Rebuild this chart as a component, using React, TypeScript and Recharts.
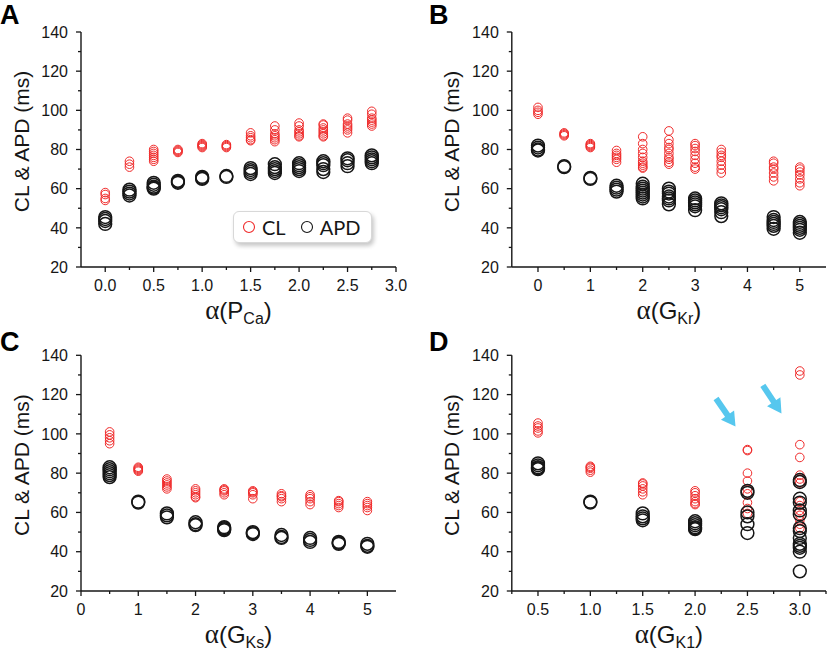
import { ScatterChart, Scatter, XAxis, YAxis, Legend, ReferenceLine, Label } from 'recharts';

const FONT = '"Liberation Sans", Arial, Helvetica, sans-serif';
const RED = '#f02a2a';
const INK = '#161616';
const ARROW = '#56c7ee';

// y axis, shared by all panels
const yMajor = [20, 40, 60, 80, 100, 120, 140];
const yMinor = [30, 50, 70, 90, 110, 130];

// A: alpha(PCa)
const xA = [0, 0.25, 0.5, 0.75, 1, 1.25, 1.5, 1.75, 2, 2.25, 2.5, 2.75];
const clA = [
  [58, 57, 55, 54],
  [74, 72.5, 71],
  [80, 79, 78, 77, 76, 75, 74],
  [80, 79.5, 79, 78.5],
  [83, 82.5, 82, 81.5, 81],
  [82.5, 82, 81.5, 81],
  [88.5, 87, 86, 85, 84.5],
  [92, 90, 88, 87, 86, 85, 84],
  [93.5, 92, 90, 89, 88, 87, 86.5],
  [93, 92.5, 91, 90, 89, 88, 87, 86.5],
  [96, 95, 93, 92, 91, 90, 88.5],
  [99.5, 98, 96, 95, 94, 93, 92],
];
const apdA = [
  [45.5, 44.5, 43.5, 42],
  [59.5, 58.5, 57.5, 56.5],
  [63, 62, 61, 60.5, 60],
  [64, 63.5, 63],
  [66, 65.5, 65],
  [66.5, 66],
  [70.5, 69.5, 68.5, 67.5],
  [72.5, 71, 70, 69, 68],
  [73, 72, 71, 70, 69],
  [74, 73, 72, 70, 68.5],
  [75.5, 74.5, 73, 71.5],
  [77, 76, 75, 74, 73],
];
const xLabelsA = [0, 0.5, 1, 1.5, 2, 2.5, 3];
const xMinorA = [0.25, 0.75, 1.25, 1.75, 2.25, 2.75];

// B: alpha(GKr)
const xB = [0, 0.5, 1, 1.5, 2, 2.5, 3, 3.5, 4.5, 5];
const clB = [
  [101.5, 100, 99, 98],
  [88.5, 88, 87.5, 87],
  [83, 82.5, 82, 81.5, 81],
  [79.5, 78, 77, 76, 75, 73.5],
  [86.5, 83, 80, 78, 76, 74, 73, 72, 71, 70.5],
  [89.5, 85, 83, 81, 80, 78, 76, 75, 73.5, 72.5],
  [83, 82, 80.5, 79, 77, 75, 73, 71, 70],
  [80, 78.5, 77, 76, 74, 72, 70, 68],
  [74, 73, 71, 70, 68, 66, 64],
  [71, 70, 68.5, 67, 65, 63, 61.5],
];
const apdB = [
  [82, 81, 80, 79.5],
  [71.5, 71],
  [65.5, 65],
  [61.5, 60.5, 59.5, 58.5],
  [62.5, 61, 60, 59, 58, 57, 56, 55],
  [60, 58.5, 57.5, 56, 55, 54, 52],
  [55, 54, 53, 52, 51, 49],
  [52.5, 51.5, 50.5, 49.5, 48, 46],
  [45.5, 44, 43, 42, 41, 39.5],
  [43, 42, 41, 40, 39, 37.5],
];
const xLabelsB = [0, 1, 2, 3, 4, 5];
const xMinorB = [0.5, 1.5, 2.5, 3.5, 4.5];

// C: alpha(GKs)
const xC = [0.5, 1, 1.5, 2, 2.5, 3, 3.5, 4, 4.5, 5];
const clC = [
  [101, 99.5, 98, 96.5, 95],
  [83, 82.5, 82, 81.5, 81],
  [77, 76, 75, 74, 73, 72],
  [72, 71, 70, 69, 68, 67.5],
  [72, 71.5, 71, 70, 69],
  [71, 70.5, 70, 69, 67],
  [69.5, 68.5, 68, 67, 65.5],
  [69, 68, 67, 65.5, 64],
  [66, 65.5, 64.5, 63.5, 62.5],
  [65.5, 64.5, 63.5, 62.5, 61],
];
const apdC = [
  [83, 82, 81, 80, 79, 78],
  [65.5, 65],
  [59.5, 58.5, 57.5],
  [55, 54, 53.5],
  [52.5, 52, 51.5, 51],
  [50, 49.5, 49],
  [48.5, 47.5, 47],
  [47, 46, 45],
  [45, 44.5, 44],
  [44, 43, 42.5],
];
const xLabelsC = [0, 1, 2, 3, 4, 5];
const xMinorC = [0.5, 1.5, 2.5, 3.5, 4.5];

// D: alpha(GK1)
const xD = [0.5, 1, 1.5, 2, 2.5, 3];
const clD = [
  [105.5, 104, 103, 101.5, 100.5],
  [83.5, 83, 82.5, 81.5, 80.5],
  [75, 74.5, 73.5, 72, 70.5, 69],
  [71, 70, 68.5, 67, 65.5, 64.5, 64],
  [92, 91.5, 80, 76, 72, 69.5, 65, 62, 59.5],
  [132, 130, 94.5, 88, 79, 77, 75, 65.5, 63.5, 61, 58.5, 56, 54, 52],
];
const apdD = [
  [85, 84, 83, 82.5, 82],
  [65.5, 65],
  [59.5, 58, 57, 56],
  [55.5, 54.5, 53.5, 52.5, 52, 51.5],
  [71, 70, 60, 58, 54, 49.5],
  [76.5, 75.5, 67, 65, 61, 59, 52, 50.5, 47, 44, 43, 42, 40, 30],
];
const xLabelsD = [0.5, 1, 1.5, 2, 2.5, 3];
const xMinorD = [0.25, 0.75, 1.25, 1.75, 2.25, 2.75, 3.25];

// arrows pointing at the scattered columns in D (data coordinates)
const arrowStartD = [{ x: 2.2, y: 118 }, { x: 2.647, y: 124.7 }];
const arrowEndD = [{ x: 2.386, y: 103.7 }, { x: 2.825, y: 110.4 }];

function points(xs: number[], groups: number[][]) {
  return xs.flatMap((x, i) => groups[i].map((y) => ({ x, y })));
}

const ring = (r: number, color: string, w: number) => (p: any) => (
  <circle cx={p.cx} cy={p.cy} r={r} fill="none" stroke={color} strokeWidth={w} />
);

function makeXTick(majors: number[], digits: number) {
  return (p: any) => {
    const v = p.payload.value;
    const major = majors.some((m) => Math.abs(m - v) < 1e-9);
    return (
      <g>
        <line x1={p.x} x2={p.x} y1={p.y} y2={p.y + (major ? 5 : 3)} stroke={INK} strokeWidth={1.3} />
        {major && (
          <text x={p.x} y={p.y + 24} textAnchor="middle" fontSize={16} fontFamily={FONT} fill={INK}>
            {v.toFixed(digits)}
          </text>
        )}
      </g>
    );
  };
}

function yTick(p: any) {
  const v = p.payload.value;
  const major = yMajor.includes(v);
  return (
    <g>
      <line x1={p.x} x2={p.x - (major ? 5 : 3)} y1={p.y} y2={p.y} stroke={INK} strokeWidth={1.3} />
      {major && (
        <text x={p.x - 13} y={p.y} dy="0.36em" textAnchor="end" fontSize={16} fontFamily={FONT} fill={INK}>
          {v}
        </text>
      )}
    </g>
  );
}

function xTitle(main: string, sub: string) {
  return (p: any) => {
    const vb = p.viewBox;
    const cx = vb.x + vb.width / 2;
    const y = vb.y + 52;
    return (
      <text x={cx} y={y} textAnchor="middle" fontSize={24} fontFamily={FONT} fill={INK}>
        <tspan fontFamily='"Liberation Serif", "DejaVu Serif", serif' fontSize={27}>α</tspan>
        <tspan>({main}</tspan>
        <tspan fontSize={16} dy={5}>{sub}</tspan>
        <tspan dy={-5}>)</tspan>
      </text>
    );
  };
}

function yTitle(p: any) {
  const vb = p.viewBox;
  const lx = vb.x + vb.width - 60;
  const ly = vb.y + vb.height / 2 - 8;
  return (
    <text
      x={lx}
      y={ly}
      transform={`rotate(-90, ${lx}, ${ly})`}
      textAnchor="middle"
      dy="0.36em"
      fontSize={21}
      fontFamily={FONT}
      fill={INK}
    >
      CL &amp; APD (ms)
    </text>
  );
}

function arrowShape(p: any) {
  const { x1, y1, x2, y2 } = p;
  const dx = x2 - x1;
  const dy = y2 - y1;
  const len = Math.hypot(dx, dy);
  const ux = dx / len;
  const uy = dy / len;
  const head = 14;
  const half = 8;
  const bx = x2 - ux * head;
  const by = y2 - uy * head;
  return (
    <g>
      <line x1={x1} y1={y1} x2={bx + ux} y2={by + uy} stroke={ARROW} strokeWidth={6} />
      <polygon
        points={`${x2},${y2} ${bx - uy * half},${by + ux * half} ${bx + uy * half},${by - ux * half}`}
        fill={ARROW}
      />
    </g>
  );
}

function LegendBox() {
  const item = (color: string, text: string) => (
    <span style={{ display: 'inline-flex', alignItems: 'center', marginRight: 14 }}>
      <svg width={14} height={14} style={{ marginRight: 6 }}>
        <circle cx={7} cy={7} r={5.5} fill="none" stroke={color} strokeWidth={1.1} />
      </svg>
      <span style={{ fontFamily: 'Lato, "Open Sans", sans-serif', fontSize: 20, color: INK }}>{text}</span>
    </span>
  );
  return (
    <div
      style={{
        display: 'flex',
        alignItems: 'center',
        height: 32,
        width: 139,
        boxSizing: 'border-box',
        padding: '0 0 0 8px',
        background: '#fff',
        border: '1px solid #d8d8d8',
        borderRadius: 6,
        boxShadow: '2px 3px 4px rgba(0,0,0,0.22)',
        whiteSpace: 'nowrap',
      }}
    >
      {item(RED, 'CL')}
      {item(INK, 'APD')}
    </div>
  );
}

interface PanelProps {
  letter: string;
  left: number;
  top: number;
  width: number;
  height: number;
  margin: { top: number; right: number; bottom: number; left: number };
  domain: [number, number];
  xLabels: number[];
  xMinor: number[];
  digits: number;
  cl: { x: number; y: number }[];
  apd: { x: number; y: number }[];
  sub: [string, string];
  legend?: boolean;
  arrows?: boolean;
  letterTop: number;
  letterLeft: number;
}

function Panel(props: PanelProps) {
  const ticks = [...props.xLabels, ...props.xMinor].sort((a, b) => a - b);
  return (
    <div style={{ position: 'absolute', left: props.left, top: props.top }}>
      <ScatterChart width={props.width} height={props.height} margin={props.margin}>
        <XAxis
          type="number"
          dataKey="x"
          domain={props.domain}
          ticks={ticks}
          interval={0}
          allowDataOverflow
          tickSize={0}
          tickMargin={0}
          tickLine={false}
          axisLine={{ stroke: INK, strokeWidth: 1.4 }}
          tick={makeXTick(props.xLabels, props.digits)}
          height={30}
        >
          <Label content={xTitle(props.sub[0], props.sub[1])} />
        </XAxis>
        <YAxis
          type="number"
          dataKey="y"
          domain={[20, 140]}
          ticks={[...yMajor, ...yMinor].sort((a, b) => a - b)}
          interval={0}
          allowDataOverflow
          tickSize={0}
          tickMargin={0}
          tickLine={false}
          axisLine={{ stroke: INK, strokeWidth: 1.4 }}
          tick={yTick}
          width={60}
        >
          <Label content={yTitle} />
        </YAxis>
        <Scatter name="CL" data={props.cl} shape={ring(4.3, RED, 1)} isAnimationActive={false} />
        <Scatter name="APD" data={props.apd} shape={ring(6.4, INK, 1.5)} isAnimationActive={false} />
        {props.arrows &&
          arrowStartD.map((s, i) => (
            <ReferenceLine key={i} segment={[s, arrowEndD[i]]} shape={arrowShape} ifOverflow="visible" />
          ))}
        {props.legend && (
          <Legend
            layout="horizontal"
            verticalAlign="middle"
            align="center"
            content={() => <LegendBox />}
            wrapperStyle={{ left: 233, top: 211, width: 139, height: 32 }}
          />
        )}
      </ScatterChart>
      <div
        style={{
          position: 'absolute',
          left: props.letterLeft,
          top: props.letterTop,
          fontFamily: FONT,
          fontWeight: 700,
          fontSize: 27,
          lineHeight: 1,
          color: '#000',
        }}
      >
        {props.letter}
      </div>
    </div>
  );
}

export default function App() {
  return (
    <div style={{ position: 'absolute', left: 0, top: 0, width: 827, height: 654, background: '#fff' }}>
      <Panel
        letter="A"
        left={0}
        top={0}
        width={414}
        height={340}
        margin={{ top: 32, right: 18, bottom: 43, left: 21 }}
        domain={[-0.25, 3]}
        xLabels={xLabelsA}
        xMinor={xMinorA}
        digits={1}
        cl={points(xA, clA)}
        apd={points(xA, apdA)}
        sub={['P', 'Ca']}
        legend
        letterLeft={0}
        letterTop={2}
      />
      <Panel
        letter="B"
        left={414}
        top={0}
        width={413}
        height={340}
        margin={{ top: 32, right: 1, bottom: 43, left: 37.8 }}
        domain={[-0.5, 5.5]}
        xLabels={xLabelsB}
        xMinor={xMinorB}
        digits={0}
        cl={points(xB, clB)}
        apd={points(xB, apdB)}
        sub={['G', 'Kr']}
        letterLeft={15}
        letterTop={2}
      />
      <Panel
        letter="C"
        left={0}
        top={327}
        width={414}
        height={327}
        margin={{ top: 28.3, right: 18, bottom: 33, left: 21 }}
        domain={[0, 5.5]}
        xLabels={xLabelsC}
        xMinor={xMinorC}
        digits={0}
        cl={points(xC, clC)}
        apd={points(xC, apdC)}
        sub={['G', 'Ks']}
        letterLeft={0}
        letterTop={2}
      />
      <Panel
        letter="D"
        left={414}
        top={327}
        width={413}
        height={327}
        margin={{ top: 28.3, right: 1, bottom: 33, left: 37.8 }}
        domain={[0.25, 3.25]}
        xLabels={xLabelsD}
        xMinor={xMinorD}
        digits={1}
        cl={points(xD, clD)}
        apd={points(xD, apdD)}
        sub={['G', 'K1']}
        arrows
        letterLeft={15}
        letterTop={2}
      />
    </div>
  );
}
